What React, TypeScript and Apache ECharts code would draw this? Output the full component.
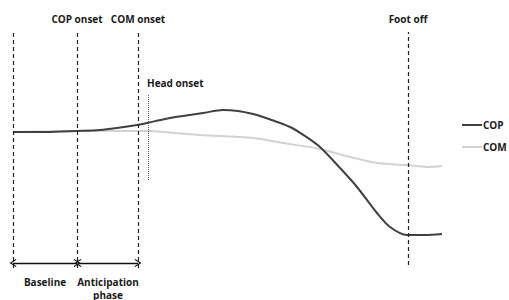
import React, { useEffect, useRef } from "react";
import * as echarts from "echarts";

// time axis (arbitrary units from start of baseline)
const copTime = [0, 32, 64, 87, 104, 124, 134, 152, 170, 190, 210, 225, 240, 250, 277, 292, 307, 327, 344, 364, 377, 394, 412, 429];
const copValues = [0, 0, 1, 2, 4, 7, 9, 13, 16, 19, 22, 21, 18, 15, 5, -4, -15, -36, -55, -81, -95, -103, -103, -102];
const comTime = [0, 64, 134, 162, 187, 240, 270, 307, 337, 364, 394, 414, 429];
const comValues = [0, 1, 1, -1, -3, -6, -11, -17, -25, -31, -33, -35, -34];

const eventNames = ["", "COP onset", "COM onset", "Foot off"];
const eventTimes = [0, 64, 125, 395];
const headOnsetTime = 135;
const phaseNames = ["Baseline", "Anticipation\nphase"];
const phaseBounds = [[0, 64], [65, 125]];

const FONT = "'Open Sans', 'Liberation Sans', sans-serif";

export default function App() {
  const ref = useRef<HTMLDivElement>(null);
  useEffect(() => {
    const chart = echarts.init(ref.current!, null, { renderer: "svg" });
    const chevron = "path://M5,0 L10,9 L9,10 L5,3 L1,10 L0,9 Z";
    const labelStyle = { fontFamily: FONT, fontWeight: "bold" as const, fontSize: 10, color: "#1a1a1a" };

    const eventLines = eventNames.map((name, i) => [
      { coord: [eventTimes[i], i === 3 ? -133 : -136] },
      {
        coord: [eventTimes[i], 100],
        label: { show: name !== "", position: "end", distance: 8, formatter: name, ...labelStyle },
      },
    ]);
    const headLine = [
      { coord: [headOnsetTime, -48], lineStyle: { type: [1, 1], color: "#555", width: 1 } },
      {
        coord: [headOnsetTime, 38],
        lineStyle: { type: [1, 1], color: "#555", width: 1 },
        label: { show: true, position: "end", distance: 6, align: "left", offset: [-1, 0], formatter: "Head onset", ...labelStyle },
      },
    ];
    const phaseLines = phaseNames.map((name, i) => [
      { coord: [phaseBounds[i][0], -131], symbol: chevron, symbolSize: [8, 7] },
      {
        coord: [phaseBounds[i][1], -131],
        symbol: chevron,
        symbolSize: [8, 7],
        lineStyle: { type: "solid", color: "#111", width: 1.3 },
        label: { show: true, position: "insideMiddleBottom", distance: 12, formatter: name, lineHeight: 13, ...labelStyle },
      },
    ]);

    chart.setOption({
      animation: false,
      grid: { left: 13, right: 67, top: 32, bottom: 32 },
      xAxis: { type: "value", min: 0, max: 429, show: false },
      yAxis: { type: "value", min: -136, max: 100, show: false },
      legend: {
        orient: "vertical",
        left: 462,
        top: 120,
        padding: 0,
        itemWidth: 20,
        itemHeight: 2,
        itemGap: 12,
        icon: "rect",
        textStyle: { ...labelStyle, padding: [0, 0, 0, -4] },
        data: ["COP", "COM"],
      },
      series: [
        {
          name: "COM",
          type: "line",
          data: comTime.map((t, i) => [t, comValues[i]]),
          showSymbol: false,
          smooth: 0.3,
          itemStyle: { color: "#d2d2d2" },
          lineStyle: { color: "#d2d2d2", width: 2 },
        },
        {
          name: "COP",
          type: "line",
          data: copTime.map((t, i) => [t, copValues[i]]),
          showSymbol: false,
          smooth: 0.3,
          itemStyle: { color: "#404040" },
          lineStyle: { color: "#404040", width: 2 },
          markLine: {
            silent: true,
            symbol: ["none", "none"],
            lineStyle: { type: [4, 3], color: "#222", width: 1.2 },
            label: { show: false },
            data: [...eventLines, headLine, ...phaseLines],
          },
        },
      ],
    });
    return () => chart.dispose();
  }, []);
  return <div ref={ref} style={{ width: 509, height: 300, position: "absolute", left: 0, top: 0 }} />;
}
